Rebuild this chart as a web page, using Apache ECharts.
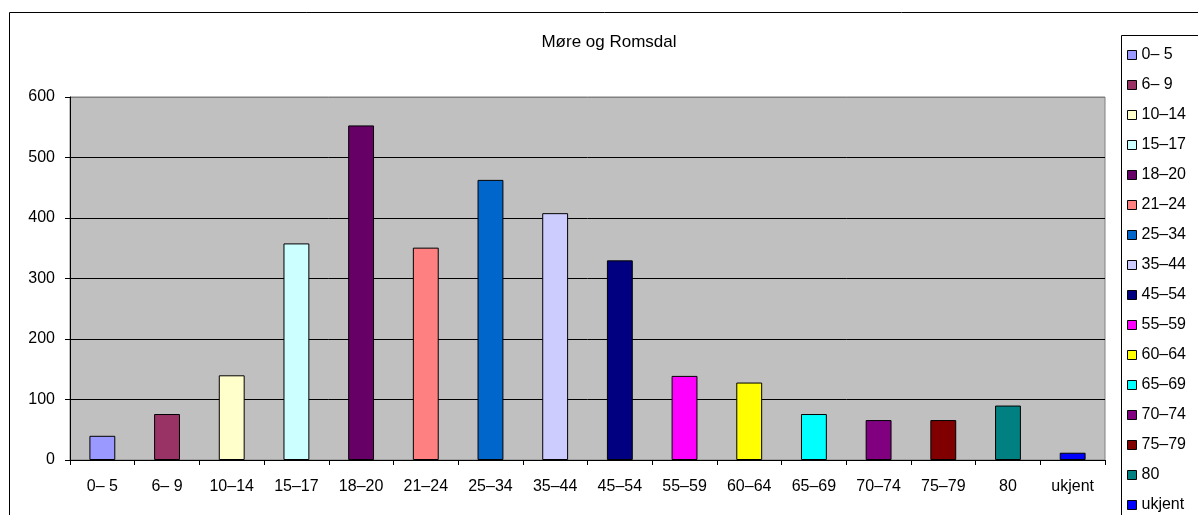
<!DOCTYPE html>
<html>
<head>
<meta charset="utf-8">
<script src="https://cdn.jsdelivr.net/npm/echarts@6/dist/echarts.min.js"></script>
<style>
  html, body { margin: 0; padding: 0; background: #fff; }
  #chart { width: 1198px; height: 515px; }
</style>
</head>
<body>
<div id="chart"></div>
<script>
// Age groups shown on the category axis
const categories = ['0– 5', '6– 9', '10–14', '15–17', '18–20', '21–24', '25–34', '35–44',
  '45–54', '55–59', '60–64', '65–69', '70–74', '75–79', '80', 'ukjent'];
// Legend entries (one per age group)
const legendNames = ['0– 5', '6– 9', '10–14', '15–17', '18–20', '21–24', '25–34', '35–44',
  '45–54', '55–59', '60–64', '65–69', '70–74', '75–79', '80', 'ukjent'];
// Counts per age group
const counts = [40, 76, 140, 358, 553, 351, 463, 408, 330, 139, 128, 76, 66, 66, 90, 12];
// Fill colour per age group
const colors = ['#9999FF', '#993366', '#FFFFCC', '#CCFFFF', '#660066', '#FF8080', '#0066CC', '#CCCCFF',
  '#000080', '#FF00FF', '#FFFF00', '#00FFFF', '#800080', '#800000', '#008080', '#0000FF'];
// Value axis ticks
const yTicks = [0, 100, 200, 300, 400, 500, 600];

const FONT = '"Liberation Sans", Arial, sans-serif';

// One stacked series per age group so that each bar sits centred in its own category
const series = counts.map((v, i) => ({
  name: legendNames[i],
  type: 'bar',
  stack: 'all',
  barWidth: '40%',
  data: categories.map((c, j) => (j === i ? v : '-')),
  itemStyle: { color: colors[i], borderColor: '#000', borderWidth: 1 },
  emphasis: { disabled: true }
}));

const chart = echarts.init(document.getElementById('chart'), null, { renderer: 'canvas' });
chart.setOption({
  animation: false,
  backgroundColor: '#fff',
  textStyle: { fontFamily: FONT },
  title: {
    text: 'Møre og Romsdal',
    left: 604,
    top: 29,
    textAlign: 'center',
    textStyle: { fontFamily: FONT, fontSize: 17, fontWeight: 'normal', color: '#000' }
  },
  graphic: [
    { type: 'rect', shape: { x: 9.5, y: 12.5, width: 1300, height: 600 },
      style: { fill: 'none', stroke: '#000', lineWidth: 1 }, z: 0 },
    { type: 'rect', shape: { x: 1121.5, y: 35.5, width: 200, height: 600 },
      style: { fill: '#fff', stroke: '#000', lineWidth: 1 }, z: 1 }
  ],
  legend: {
    orient: 'vertical',
    left: 1127,
    top: 47,
    padding: 0,
    itemWidth: 9,
    itemHeight: 9,
    itemGap: 14,
    icon: 'rect',
    itemStyle: { borderColor: '#000', borderWidth: 1 },
    textStyle: { fontFamily: FONT, fontSize: 16, color: '#000', lineHeight: 16, padding: [0, 0, 0, 0] },
    data: legendNames,
    z: 5
  },
  grid: {
    left: 70, top: 97, right: 93, bottom: 55,
    show: true,
    backgroundColor: '#C0C0C0',
    borderColor: '#808080',
    borderWidth: 1
  },
  xAxis: {
    type: 'category',
    data: categories,
    boundaryGap: true,
    axisLine: { lineStyle: { color: '#000', width: 1 } },
    axisTick: { show: true, length: 5, lineStyle: { color: '#000' } },
    axisLabel: { color: '#000', fontSize: 16, fontFamily: FONT, margin: 19, interval: 0 },
    splitLine: { show: false }
  },
  yAxis: {
    type: 'value',
    min: yTicks[0],
    max: yTicks[yTicks.length - 1],
    interval: 100,
    axisLine: { show: true, lineStyle: { color: '#000', width: 1 } },
    axisTick: { show: true, length: 5, lineStyle: { color: '#000' } },
    axisLabel: { color: '#000', fontSize: 16, fontFamily: FONT, margin: 15 },
    splitLine: { show: true, lineStyle: { color: ['#000', '#000', '#000', '#000', '#000', '#000', '#808080'], width: 1 } }
  },
  series: series
});
</script>
</body>
</html>
